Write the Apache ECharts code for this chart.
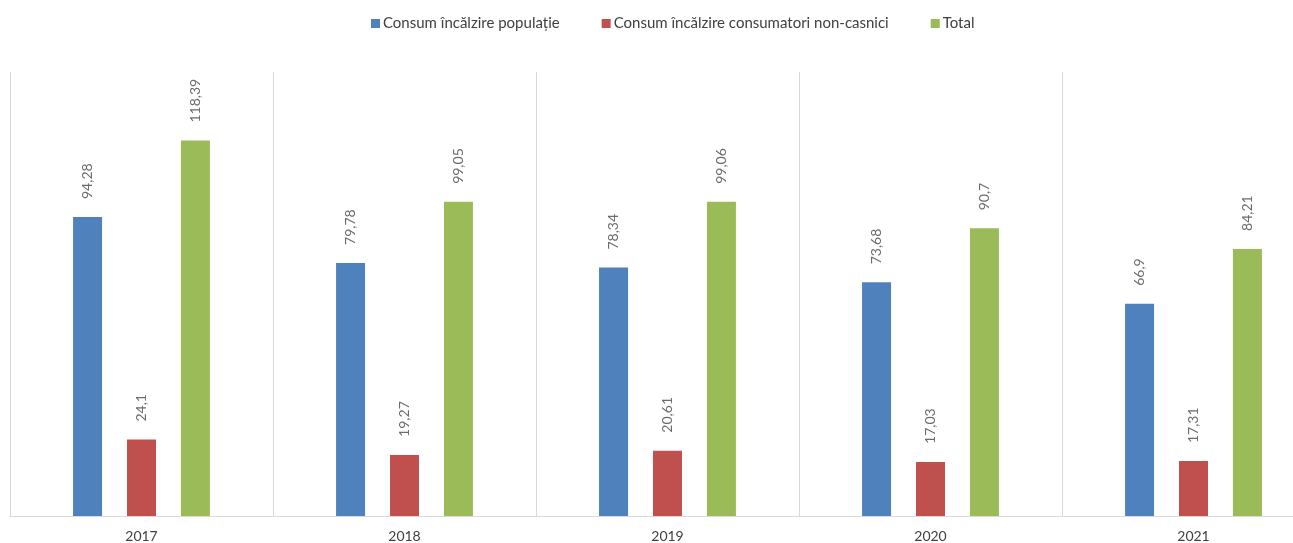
<!DOCTYPE html>
<html>
<head>
<meta charset="utf-8">
<script src="https://cdn.jsdelivr.net/npm/echarts@6/dist/echarts.min.js"></script>
<style>html,body{margin:0;padding:0;background:#fff;overflow:hidden}#c{width:1330px;height:543px}</style>
</head>
<body>
<div id="c"></div>
<script>
const categories = ['2017', '2018', '2019', '2020', '2021'];
const seriesNames = ['Consum încălzire populație', 'Consum încălzire consumatori non-casnici', 'Total'];
const populatie = [94.28, 79.78, 78.34, 73.68, 66.9];
const nonCasnici = [24.1, 19.27, 20.61, 17.03, 17.31];
const total = [118.39, 99.05, 99.06, 90.7, 84.21];
const colors = ['#4F81BD', '#C0504D', '#9BBB59'];

const FONT = 'Lato, "Open Sans", sans-serif';
function mk(name, data, color) {
  return {
    name: name, type: 'bar', data: data, barWidth: 29, barGap: '86%',
    itemStyle: { color: color },
    label: {
      show: true, position: 'top', rotate: 90, distance: 18,
      align: 'left', verticalAlign: 'middle',
      color: '#6b6b6b', fontSize: 14, fontFamily: FONT,
      formatter: p => String(p.value).replace('.', ',')
    }
  };
}
const chart = echarts.init(document.getElementById('c'));
chart.setOption({
  animation: false,
  legend: {
    top: 11, left: 366, itemWidth: 9, itemHeight: 9, itemGap: 42,
    icon: 'rect',
    textStyle: { color: '#404040', fontSize: 15, fontFamily: FONT, padding: [0, 0, 0, -2] },
    data: seriesNames
  },
  grid: { left: 10, top: 72, width: 1315, bottom: 26, containLabel: false },
  xAxis: {
    type: 'category', data: categories,
    axisLine: { lineStyle: { color: '#d9d9d9', width: 1 } },
    axisTick: { show: false },
    splitLine: { show: true, lineStyle: { color: '#d9d9d9', width: 1 } },
    axisLabel: { color: '#404040', fontSize: 14, fontFamily: FONT, margin: 13 }
  },
  yAxis: { type: 'value', min: 0, max: 140, show: false, splitLine: { show: false } },
  series: [mk(seriesNames[0], populatie, colors[0]), mk(seriesNames[1], nonCasnici, colors[1]), mk(seriesNames[2], total, colors[2])]
});
</script>
</body>
</html>
